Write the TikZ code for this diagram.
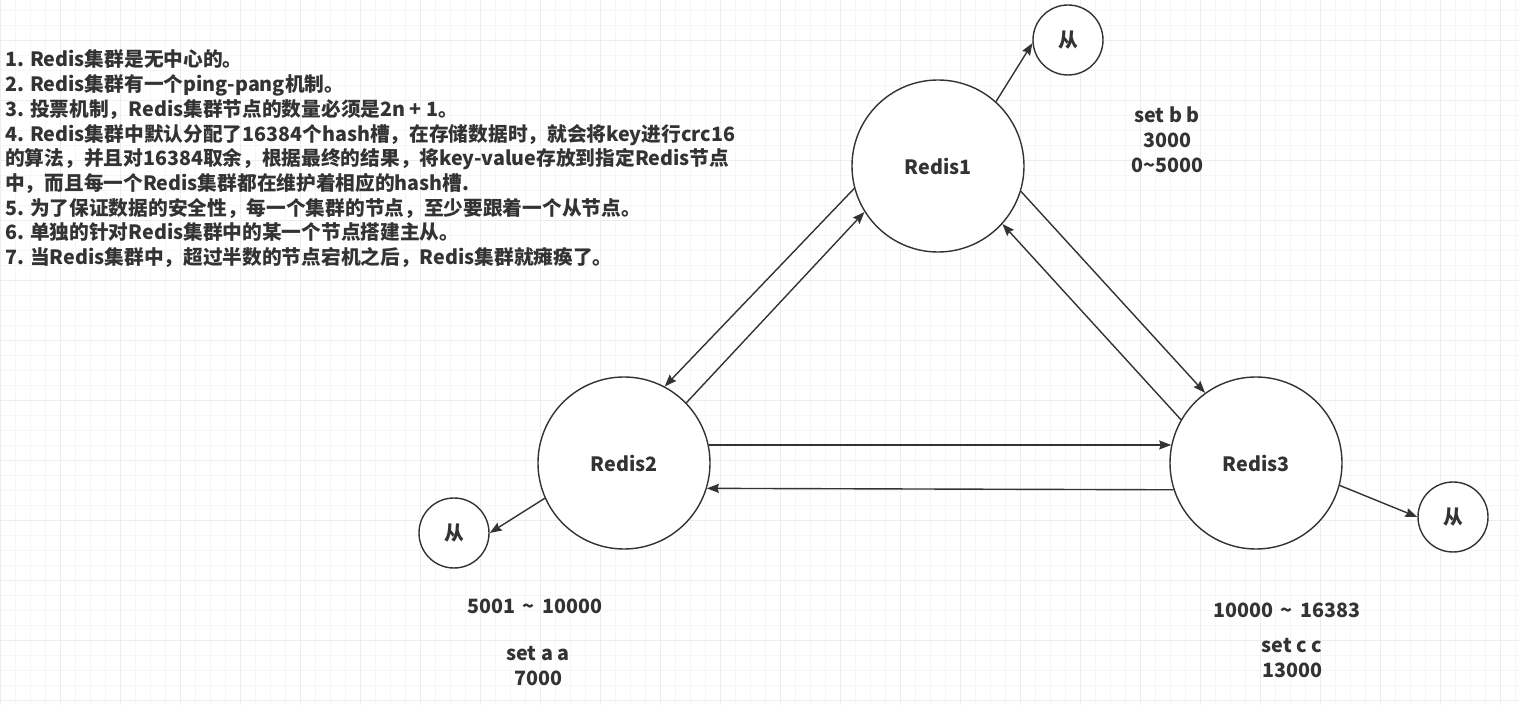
\documentclass[tikz,border=0pt]{standalone}
\usepackage{fontspec}
\setmainfont{Noto Sans CJK SC}
\usetikzlibrary{arrows.meta}
\definecolor{ink}{HTML}{333333}
\tikzset{
  redis/.style={circle,draw=ink,line width=1.4pt,fill=white,minimum size=172pt,inner sep=0pt},
  slave/.style={circle,draw=ink,line width=1.4pt,fill=white,minimum size=70pt,inner sep=0pt},
  link/.style={draw=ink,line width=1.4pt,-{Stealth[length=12pt,width=9pt,inset=1.5pt]}},
  note/.style={text=ink,font=\bfseries\fontsize{19.7}{25}\selectfont,inner sep=0pt},
  item/.style={note,anchor=base west}
}
\begin{document}
\begin{tikzpicture}[x=1pt,y=1pt]
\useasboundingbox (0,0) rectangle (1519,705);
\fill[white] (0,0) rectangle (1519,705);
\draw[gray!7,line width=0.8pt,shift={(0,5)}] (0,-5) grid[step=15] (1519,700);
\draw[gray!14,line width=0.8pt,shift={(0,5)}] (0,-5) grid[step=60] (1519,700);

\node[item] (l1) at (5,638) {1. Redis集群是无中心的。};
\node[item] (l2) at (5,613.3) {2. Redis集群有一个ping-pang机制。};
\node[item] (l3) at (5,588.6) {3. 投票机制，Redis集群节点的数量必须是2n + 1。};
\node[item] (l4) at (5,563.9) {4. Redis集群中默认分配了16384个hash槽，在存储数据时，就会将key进行crc16};
\node[item] (l5) at (5,539.2) {的算法，并且对16384取余，根据最终的结果，将key-value存放到指定Redis节点};
\node[item] (l6) at (5,514.5) {中，而且每一个Redis集群都在维护着相应的hash槽.};
\node[item] (l7) at (5,489.8) {5. 为了保证数据的安全性，每一个集群的节点，至少要跟着一个从节点。};
\node[item] (l8) at (5,465.1) {6. 单独的针对Redis集群中的某一个节点搭建主从。};
\node[item] (l9) at (5,440.4) {7. 当Redis集群中，超过半数的节点宕机之后，Redis集群就瘫痪了。};

\node[redis,note] (r1) at (938,539) {Redis1};
\node[redis,note] (r2) at (624,242) {Redis2};
\node[redis,note] (r3) at (1256,242) {Redis3};

\node[slave,note] (s1) at (1068,665) {从};
\node[slave,note] (s2) at (454,172) {从};
\node[slave,note] (s3) at (1453,188) {从};

\node[note,align=center] (k1) at (1167,565) {set b b\\3000\\0\textasciitilde5000};
\node[note] (k2) at (535,99) {5001 \,\textasciitilde\, 10000};
\node[note,align=center] (k3) at (538,38.5) {set a a\\7000};
\node[note] (k4) at (1287,95) {10000 \,\textasciitilde\, 16383};
\node[note,align=center] (k5) at (1292,46.5) {set c c\\13000};

\draw[link] (r1.195) -- (r2.62);
\draw[link] (r2.44) -- (r1.212);
\draw[link] (r1.343) -- (r3.126);
\draw[link] (r3.150) -- (r1.318);
\draw[link] (r2.12) -- (r3.168);
\draw[link] (r3.198) -- (r2.343);
\draw[link] (r1.48) -- (s1.185);
\draw[link] (r2.204) -- (s2.0);
\draw[link] (r3.345) -- (s3.180);
\end{tikzpicture}
\end{document}
